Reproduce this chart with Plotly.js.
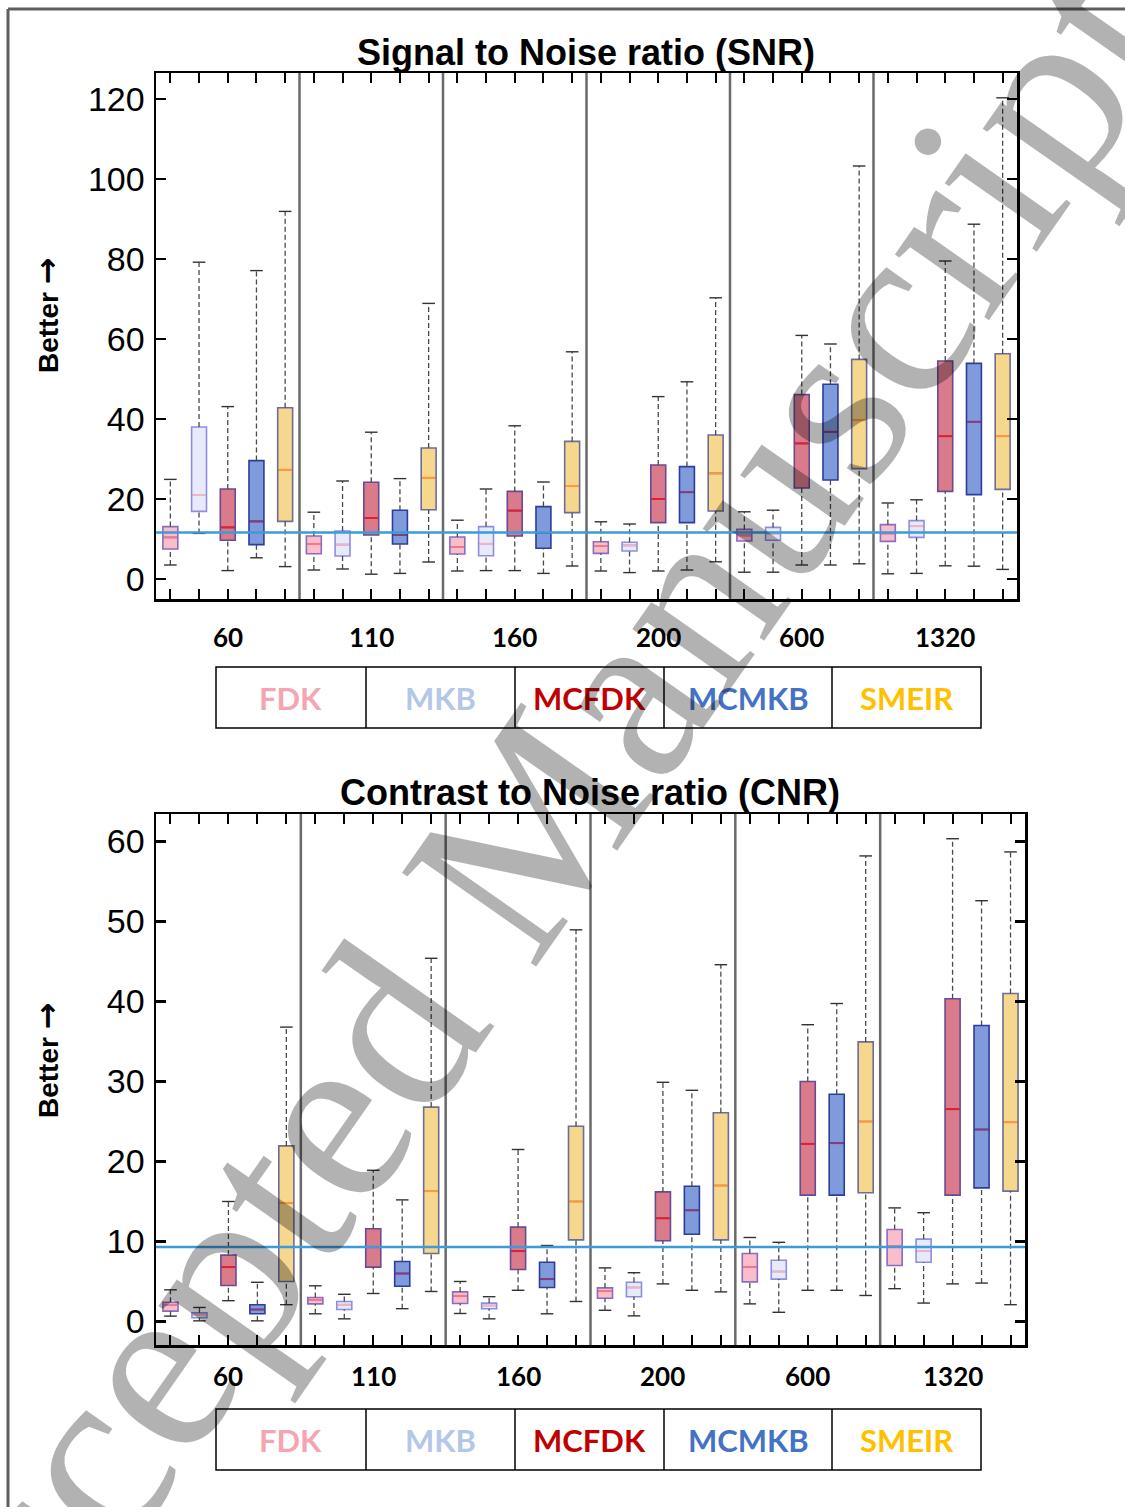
<!DOCTYPE html>
<html>
<head>
<meta charset="utf-8">
<script src="https://cdn.plot.ly/plotly-3.0.1.min.js"></script>
<style>html,body{margin:0;padding:0;background:#fff;}#chart{width:1125px;height:1507px;}</style>
</head>
<body>
<div id="chart"></div>
<script>
// ---------------- DATA ----------------
const groups = ['60', '110', '160', '200', '600', '1320'];
const methods = ['FDK', 'MKB', 'MCFDK', 'MCMKB', 'SMEIR'];

// SNR (top chart): per method, values for the 6 groups
const snrFDK_lo  = [3.5, 2.25, 2.0, 2.0, 1.7, 1.3];
const snrFDK_q1  = [7.5, 6.3, 6.25, 6.4, 9.5, 9.4];
const snrFDK_med = [10.4, 8.75, 8.0, 8.25, 10.9, 11.4];
const snrFDK_q3  = [13.1, 10.75, 10.5, 9.3, 12.4, 13.6];
const snrFDK_hi  = [24.9, 16.7, 14.7, 14.3, 16.8, 19.0];

const snrMKB_lo  = [11.4, 2.5, 2.1, 1.6, 1.7, 1.4];
const snrMKB_q1  = [16.9, 5.75, 5.8, 7.0, 9.7, 10.4];
const snrMKB_med = [21.0, 8.6, 8.8, 8.4, 11.25, 13.2];
const snrMKB_q3  = [38.0, 12.0, 13.1, 9.2, 12.9, 14.6];
const snrMKB_hi  = [79.2, 24.5, 22.5, 13.75, 17.2, 19.8];

const snrMCFDK_lo  = [2.1, 1.2, 2.1, 2.0, 3.5, 3.3];
const snrMCFDK_q1  = [9.7, 11.0, 10.75, 14.1, 22.75, 21.9];
const snrMCFDK_med = [12.9, 15.25, 17.1, 20.0, 33.9, 35.7];
const snrMCFDK_q3  = [22.5, 24.2, 21.9, 28.5, 46.1, 54.5];
const snrMCFDK_hi  = [43.1, 36.7, 38.3, 45.6, 60.9, 79.5];

const snrMCMKB_lo  = [5.3, 1.4, 1.4, 2.25, 3.5, 3.2];
const snrMCMKB_q1  = [8.6, 8.75, 7.7, 14.1, 24.75, 21.1];
const snrMCMKB_med = [14.4, 11.0, 11.5, 21.7, 36.8, 39.3];
const snrMCMKB_q3  = [29.6, 17.2, 18.1, 28.1, 48.7, 53.9];
const snrMCMKB_hi  = [77.1, 25.1, 24.25, 49.3, 58.75, 88.7];

const snrSMEIR_lo  = [3.1, 4.25, 3.25, 4.3, 3.8, 2.4];
const snrSMEIR_q1  = [14.4, 17.3, 16.6, 17.0, 27.6, 22.4];
const snrSMEIR_med = [27.3, 25.3, 23.25, 26.4, 39.7, 35.7];
const snrSMEIR_q3  = [42.8, 32.75, 34.4, 36.0, 54.9, 56.3];
const snrSMEIR_hi  = [91.9, 68.9, 56.8, 70.3, 103.25, 120.3];

const snrRef = 11.6;

// CNR (bottom chart)
const cnrFDK_lo  = [0.67, 0.96, 1.0, 1.4, 2.2, 4.1];
const cnrFDK_q1  = [1.3, 2.2, 2.25, 2.9, 4.95, 7.0];
const cnrFDK_med = [2.1, 2.7, 3.2, 3.8, 6.8, 9.4];
const cnrFDK_q3  = [2.4, 3.0, 3.7, 4.2, 8.5, 11.5];
const cnrFDK_hi  = [3.96, 4.46, 5.0, 6.7, 10.5, 14.2];

const cnrMKB_lo  = [0.08, 0.33, 0.33, 0.7, 1.15, 2.3];
const cnrMKB_q1  = [0.46, 1.5, 1.6, 3.1, 5.3, 7.4];
const cnrMKB_med = [0.8, 2.1, 2.0, 4.25, 6.25, 8.8];
const cnrMKB_q3  = [1.08, 2.5, 2.3, 4.9, 7.65, 10.3];
const cnrMKB_hi  = [1.75, 3.4, 3.1, 6.1, 9.9, 13.6];

const cnrMCFDK_lo  = [2.6, 3.5, 3.9, 4.7, 3.9, 4.7];
const cnrMCFDK_q1  = [4.5, 6.8, 6.5, 10.1, 15.8, 15.8];
const cnrMCFDK_med = [6.8, 9.3, 8.8, 12.9, 22.2, 26.55];
const cnrMCFDK_q3  = [8.3, 11.6, 11.8, 16.2, 30.0, 40.35];
const cnrMCFDK_hi  = [15.0, 18.9, 21.5, 29.9, 37.1, 60.35];

const cnrMCMKB_lo  = [0.08, 1.6, 0.96, 3.9, 3.9, 4.8];
const cnrMCMKB_q1  = [0.96, 4.4, 4.25, 10.9, 15.8, 16.7];
const cnrMCMKB_med = [1.5, 6.0, 5.3, 13.9, 22.3, 24.0];
const cnrMCMKB_q3  = [2.1, 7.5, 7.4, 16.9, 28.4, 37.0];
const cnrMCMKB_hi  = [4.9, 15.2, 9.5, 28.9, 39.75, 52.6];

const cnrSMEIR_lo  = [2.1, 3.75, 2.5, 3.7, 3.25, 2.1];
const cnrSMEIR_q1  = [5.0, 8.5, 10.2, 10.2, 16.1, 16.3];
const cnrSMEIR_med = [14.8, 16.3, 15.0, 17.0, 25.0, 24.9];
const cnrSMEIR_q3  = [21.95, 26.8, 24.4, 26.1, 34.95, 41.0];
const cnrSMEIR_hi  = [36.8, 45.4, 48.96, 44.6, 58.2, 58.7];

const cnrRef = 9.3;

const snrTicks = [0, 20, 40, 60, 80, 100, 120];
const cnrTicks = [0, 10, 20, 30, 40, 50, 60];

// ---------------- STYLE ----------------
const W = 1125, H = 1507;
const px = v => v / W;
const py = v => 1 - v / H;

const fills    = ['#F9BEC9', '#E7EAFA', '#D97B8B', '#7F9BDB', '#F5D78E'];
const outlines = ['#8A6CC0', '#8E8EE0', '#6A4A90', '#2E3C9A', '#6F6C96'];
const medians  = ['#F07A88', '#F2B3C2', '#E0202E', '#8A3A7E', '#FF9A3C'];
const legendColors = ['#F4A6B0', '#B4C7E7', '#C00000', '#4472C4', '#FFC000'];
const BW = 0.52; // box width in data units

const snr = [
  [snrFDK_lo, snrFDK_q1, snrFDK_med, snrFDK_q3, snrFDK_hi],
  [snrMKB_lo, snrMKB_q1, snrMKB_med, snrMKB_q3, snrMKB_hi],
  [snrMCFDK_lo, snrMCFDK_q1, snrMCFDK_med, snrMCFDK_q3, snrMCFDK_hi],
  [snrMCMKB_lo, snrMCMKB_q1, snrMCMKB_med, snrMCMKB_q3, snrMCMKB_hi],
  [snrSMEIR_lo, snrSMEIR_q1, snrSMEIR_med, snrSMEIR_q3, snrSMEIR_hi]
];
const cnr = [
  [cnrFDK_lo, cnrFDK_q1, cnrFDK_med, cnrFDK_q3, cnrFDK_hi],
  [cnrMKB_lo, cnrMKB_q1, cnrMKB_med, cnrMKB_q3, cnrMKB_hi],
  [cnrMCFDK_lo, cnrMCFDK_q1, cnrMCFDK_med, cnrMCFDK_q3, cnrMCFDK_hi],
  [cnrMCMKB_lo, cnrMCMKB_q1, cnrMCMKB_med, cnrMCMKB_q3, cnrMCMKB_hi],
  [cnrSMEIR_lo, cnrSMEIR_q1, cnrSMEIR_med, cnrSMEIR_q3, cnrSMEIR_hi]
];

const nG = groups.length, nM = methods.length;
const pos = (g, m) => g * nM + m + 1;
const allPos = [];
for (let i = 1; i <= nG * nM; i++) allPos.push(i);

function buildTraces(set, xa, ya) {
  const traces = [];
  const wx = [], wy = [];
  const cx = [], cy = [];
  for (let m = 0; m < nM; m++) {
    const [lo, q1, med, q3, hi] = set[m];
    for (let g = 0; g < nG; g++) {
      const p = pos(g, m);
      wx.push(p, p, null, p, p, null);
      wy.push(q3[g], hi[g], null, lo[g], q1[g], null);
      cx.push(p, p);
      cy.push(hi[g], lo[g]);
    }
  }
  traces.push({type: 'scatter', mode: 'lines', x: wx, y: wy, xaxis: xa, yaxis: ya,
    line: {color: '#4a4a4a', width: 1.3, dash: '5px,3px'}, hoverinfo: 'skip', showlegend: false});
  for (let m = 0; m < nM; m++) {
    const [lo, q1, med, q3, hi] = set[m];
    const xs = [];
    for (let g = 0; g < nG; g++) xs.push(pos(g, m));
    traces.push({type: 'box', name: methods[m], x: xs, q1: q1, median: med, q3: q3,
      lowerfence: q1, upperfence: q3, width: BW, whiskerwidth: 0,
      fillcolor: fills[m], line: {color: outlines[m], width: 1.6},
      boxpoints: false, xaxis: xa, yaxis: ya, showlegend: false});
  }
  for (let m = 0; m < nM; m++) {
    const med = set[m][2];
    const mx = [], my = [];
    for (let g = 0; g < nG; g++) {
      const p = pos(g, m);
      mx.push(p - BW / 2 + 0.03, p + BW / 2 - 0.03, null);
      my.push(med[g], med[g], null);
    }
    traces.push({type: 'scatter', mode: 'lines', x: mx, y: my, xaxis: xa, yaxis: ya,
      line: {color: medians[m], width: 2}, hoverinfo: 'skip', showlegend: false});
  }
  traces.push({type: 'scatter', mode: 'markers', x: cx, y: cy, xaxis: xa, yaxis: ya,
    marker: {symbol: 'line-ew', size: 9, line: {color: '#333', width: 1.4}},
    hoverinfo: 'skip', showlegend: false});
  return traces;
}

const data = [].concat(buildTraces(snr, 'x', 'y'), buildTraces(cnr, 'x2', 'y2'));

const tickFont = {family: 'Liberation Sans, Arial, sans-serif', size: 34, color: '#000'};
function xAxis(domain, anchor) {
  return {domain: domain, anchor: anchor, range: [0.5, nG * nM + 0.5], tickvals: allPos,
    showticklabels: false, ticks: 'inside', ticklen: 10, tickwidth: 2, tickcolor: '#000',
    showline: true, linecolor: '#000', linewidth: 2.5, mirror: 'ticks',
    showgrid: false, zeroline: false, fixedrange: true};
}
function yAxis(domain, anchor, range, ticks) {
  return {domain: domain, anchor: anchor, range: range, tickvals: ticks,
    ticks: 'inside', ticklen: 10, tickwidth: 2.5, tickcolor: '#000', tickfont: tickFont,
    showline: true, linecolor: '#000', linewidth: 2.5, mirror: 'ticks',
    showgrid: false, zeroline: false, fixedrange: true, ticklabelstandoff: 2};
}

const shapes = [];
const sepColor = '#6a6a6a';
for (let g = 1; g < nG; g++) {
  const b = g * nM + 0.5;
  shapes.push({type: 'line', xref: 'x', yref: 'y domain', x0: b, x1: b, y0: 0, y1: 1,
    line: {color: sepColor, width: 2.5}, layer: 'above'});
  shapes.push({type: 'line', xref: 'x2', yref: 'y2 domain', x0: b, x1: b, y0: 0, y1: 1,
    line: {color: sepColor, width: 2.5}, layer: 'above'});
}
shapes.push({type: 'line', xref: 'x domain', yref: 'y', x0: 0, x1: 1, y0: snrRef, y1: snrRef,
  line: {color: '#3D9BDA', width: 2.5}, layer: 'above'});
shapes.push({type: 'line', xref: 'x2 domain', yref: 'y2', x0: 0, x1: 1, y0: cnrRef, y1: cnrRef,
  line: {color: '#3D9BDA', width: 2.5}, layer: 'above'});
shapes.push({type: 'line', xref: 'paper', yref: 'paper', x0: px(8), x1: px(1140), y0: py(9), y1: py(9),
  line: {color: '#5f5f5f', width: 3}});
shapes.push({type: 'line', xref: 'paper', yref: 'paper', x0: px(8), x1: px(8), y0: py(9), y1: py(1520),
  line: {color: '#5f5f5f', width: 3}});

const legLeft = 216, legRight = 981;
const legDiv = [366, 515, 664, 832];
const legText = [290, 440, 589, 748, 906];
const legendTops = [667, 1409];
const annotations = [];
legendTops.forEach(t => {
  const b = t + 61;
  shapes.push({type: 'rect', xref: 'paper', yref: 'paper', x0: px(legLeft), x1: px(legRight),
    y0: py(b), y1: py(t), line: {color: '#000', width: 1.5}});
  legDiv.forEach(d => shapes.push({type: 'line', xref: 'paper', yref: 'paper', x0: px(d), x1: px(d),
    y0: py(b), y1: py(t), line: {color: '#000', width: 1.5}}));
  methods.forEach((m, i) => annotations.push({xref: 'paper', yref: 'paper', x: px(legText[i]),
    y: py(t + 31), text: '<b>' + m + '</b>', showarrow: false, xanchor: 'center', yanchor: 'middle',
    font: {family: 'Lato, Open Sans, sans-serif', size: 31, color: legendColors[i]}}));
});

groups.forEach((g, i) => {
  const c = i * nM + (nM + 1) / 2;
  annotations.push({xref: 'x', yref: 'paper', x: c, y: py(637), text: '<b>' + g + '</b>',
    showarrow: false, xanchor: 'center', yanchor: 'middle',
    font: {family: 'Lato, Open Sans, sans-serif', size: 26, color: '#000'}});
  annotations.push({xref: 'x2', yref: 'paper', x: c, y: py(1376), text: '<b>' + g + '</b>',
    showarrow: false, xanchor: 'center', yanchor: 'middle',
    font: {family: 'Lato, Open Sans, sans-serif', size: 26, color: '#000'}});
});

const titleFont = {family: 'Liberation Sans, Arial, sans-serif', size: 36, color: '#000'};
annotations.push({xref: 'paper', yref: 'paper', x: px(586), y: py(52), text: '<b>Signal to Noise ratio (SNR)</b>',
  showarrow: false, xanchor: 'center', yanchor: 'middle', font: titleFont});
annotations.push({xref: 'paper', yref: 'paper', x: px(590), y: py(792), text: '<b>Contrast to Noise ratio (CNR)</b>',
  showarrow: false, xanchor: 'center', yanchor: 'middle', font: titleFont});
const yLabFont = {family: 'Liberation Sans, Arial, sans-serif', size: 28, color: '#000'};
const yLabText = '<b>Better <span style="font-family:DejaVu Sans;font-size:32px">→</span></b>';
annotations.push({xref: 'paper', yref: 'paper', x: px(47), y: py(315), text: yLabText, textangle: -90,
  showarrow: false, xanchor: 'center', yanchor: 'middle', font: yLabFont});
annotations.push({xref: 'paper', yref: 'paper', x: px(47), y: py(1060), text: yLabText, textangle: -90,
  showarrow: false, xanchor: 'center', yanchor: 'middle', font: yLabFont});
// watermark
annotations.push({xref: 'paper', yref: 'paper', x: px(500), y: py(870), text: 'Accepted Manuscript', textangle: -55,
  showarrow: false, xanchor: 'center', yanchor: 'middle',
  font: {family: 'Liberation Serif, Times New Roman, serif', size: 250, color: 'rgba(0,0,0,0.3)'}});

const layout = {
  width: W, height: H, margin: {l: 0, r: 0, t: 0, b: 0},
  paper_bgcolor: '#fff', plot_bgcolor: '#fff', showlegend: false, boxmode: 'overlay',
  xaxis: xAxis([px(156), px(1017)], 'y'),
  yaxis: yAxis([py(599), py(73)], 'x', [-5, 126.5], snrTicks),
  xaxis2: xAxis([px(156), px(1025)], 'y2'),
  yaxis2: yAxis([py(1345), py(814)], 'x2', [-2.94, 63.44], cnrTicks),
  shapes: shapes, annotations: annotations
};

Plotly.newPlot('chart', data, layout, {staticPlot: true, displayModeBar: false});
</script>
</body>
</html>
